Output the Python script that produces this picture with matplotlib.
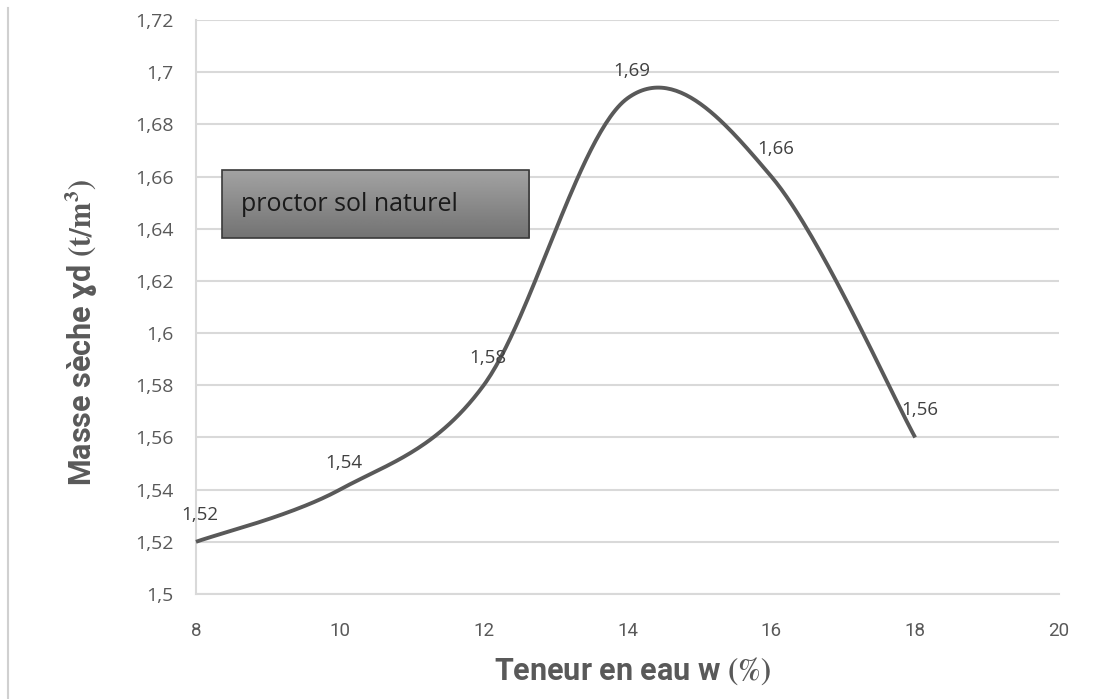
import numpy as np
import matplotlib
matplotlib.use("Agg")
import matplotlib.pyplot as plt
from matplotlib.patches import Rectangle
from matplotlib.ticker import FuncFormatter, MultipleLocator
from matplotlib.lines import Line2D

# Data
teneur = [8, 10, 12, 14, 16, 18]
masse = [1.52, 1.54, 1.58, 1.69, 1.66, 1.56]
labels = ["1,52", "1,54", "1,58", "1,69", "1,66", "1,56"]
box_text = "proctor sol naturel"

plt.rcParams['mathtext.fontset'] = 'stix'
narrow = ['Roboto', 'DejaVu Sans']
regular = ['Open Sans', 'DejaVu Sans']

fig = plt.figure(figsize=(11.06, 6.99), dpi=100)
ax = fig.add_axes([196/1106, 1-594/699, (1059-196)/1106, (594-20)/699])

# Smoothed curve (Excel-like Catmull-Rom bezier)
P = np.column_stack([teneur, masse]).astype(float)
n = len(P)
xs, ys = [], []
t = np.linspace(0, 1, 60)
for i in range(n - 1):
    p0 = P[i - 1] if i > 0 else P[i]
    p1 = P[i]
    p2 = P[i + 1]
    p3 = P[i + 2] if i + 2 < n else P[i + 1]
    b1 = p1 + (p2 - p0) / 6
    b2 = p2 - (p3 - p1) / 6
    seg = ((1 - t)[:, None] ** 3 * p1 + 3 * ((1 - t) ** 2 * t)[:, None] * b1
           + 3 * ((1 - t) * t ** 2)[:, None] * b2 + (t ** 3)[:, None] * p2)
    xs.extend(seg[:, 0]); ys.extend(seg[:, 1])
ax.plot(xs, ys, color='#595959', lw=2.8, solid_capstyle='butt', zorder=3, clip_on=False)

for x, y, lab in zip(teneur, masse, labels):
    ax.annotate(lab, (x, y), xytext=(3, 13), textcoords='offset points',
                ha='center', va='bottom', fontsize=13.5, color='#404040',
                family=regular, zorder=4)

ax.set_xlim(8, 20)
ax.set_ylim(1.5, 1.72)
ax.xaxis.set_major_locator(MultipleLocator(2))
ax.yaxis.set_major_locator(MultipleLocator(0.02))
fmt = FuncFormatter(lambda v, p: ('{:g}'.format(round(v, 4))).replace('.', ','))
ax.xaxis.set_major_formatter(fmt)
ax.yaxis.set_major_formatter(fmt)
ax.grid(axis='y', color='#d9d9d9', lw=1.5)
ax.set_axisbelow(True)
for s in ['top', 'right']:
    ax.spines[s].set_visible(False)
for s in ['left', 'bottom']:
    ax.spines[s].set_color('#d9d9d9')
    ax.spines[s].set_linewidth(1.5)
ax.tick_params(length=0, colors='#595959')
ax.tick_params(axis='y', pad=16, labelsize=14)
ax.tick_params(axis='x', pad=20, labelsize=13.5)
for lab in ax.get_yticklabels():
    lab.set_family(regular)
for lab in ax.get_xticklabels():
    lab.set_family(narrow)

ax.set_xlabel("Teneur en eau w $\\mathbf{(\\%)}$", fontsize=22, fontweight='bold',
              color='#595959', family=narrow)
ax.set_ylabel("Masse sèche ɣd $\\mathbf{(t/m^3)}$", fontsize=22, fontweight='bold',
              color='#595959', family=narrow)
ax.xaxis.set_label_coords(0.506, -0.106)
ax.yaxis.set_label_coords(-0.111, 0.456)

# Gradient text box
x0, x1, y0, y1 = 8.36, 12.63, 1.6364, 1.6625
grad = np.linspace(0.64, 0.45, 100).reshape(-1, 1)
im = ax.imshow(grad, cmap='gray', vmin=0, vmax=1, extent=[x0, x1, y0, y1],
               aspect='auto', origin='upper', zorder=5)
rect = Rectangle((x0, y0), x1 - x0, y1 - y0, fill=False, edgecolor='#3a3a3a',
                 lw=1.2, zorder=6)
ax.add_patch(rect)
im.set_clip_path(rect)
ax.text(x0 + 0.27, (y0 + y1) / 2, box_text, ha='left', va='center', fontsize=18,
        color='#1a1a1a', family=regular, zorder=7)
ax.set_xlim(8, 20)
ax.set_ylim(1.5, 1.72)

# Left border line of the page
fig.add_artist(Line2D([8/1106, 8/1106], [0, 1 - 8/699], color='#d0d0d0', lw=1.5))

fig.savefig('out.png', dpi=100)
